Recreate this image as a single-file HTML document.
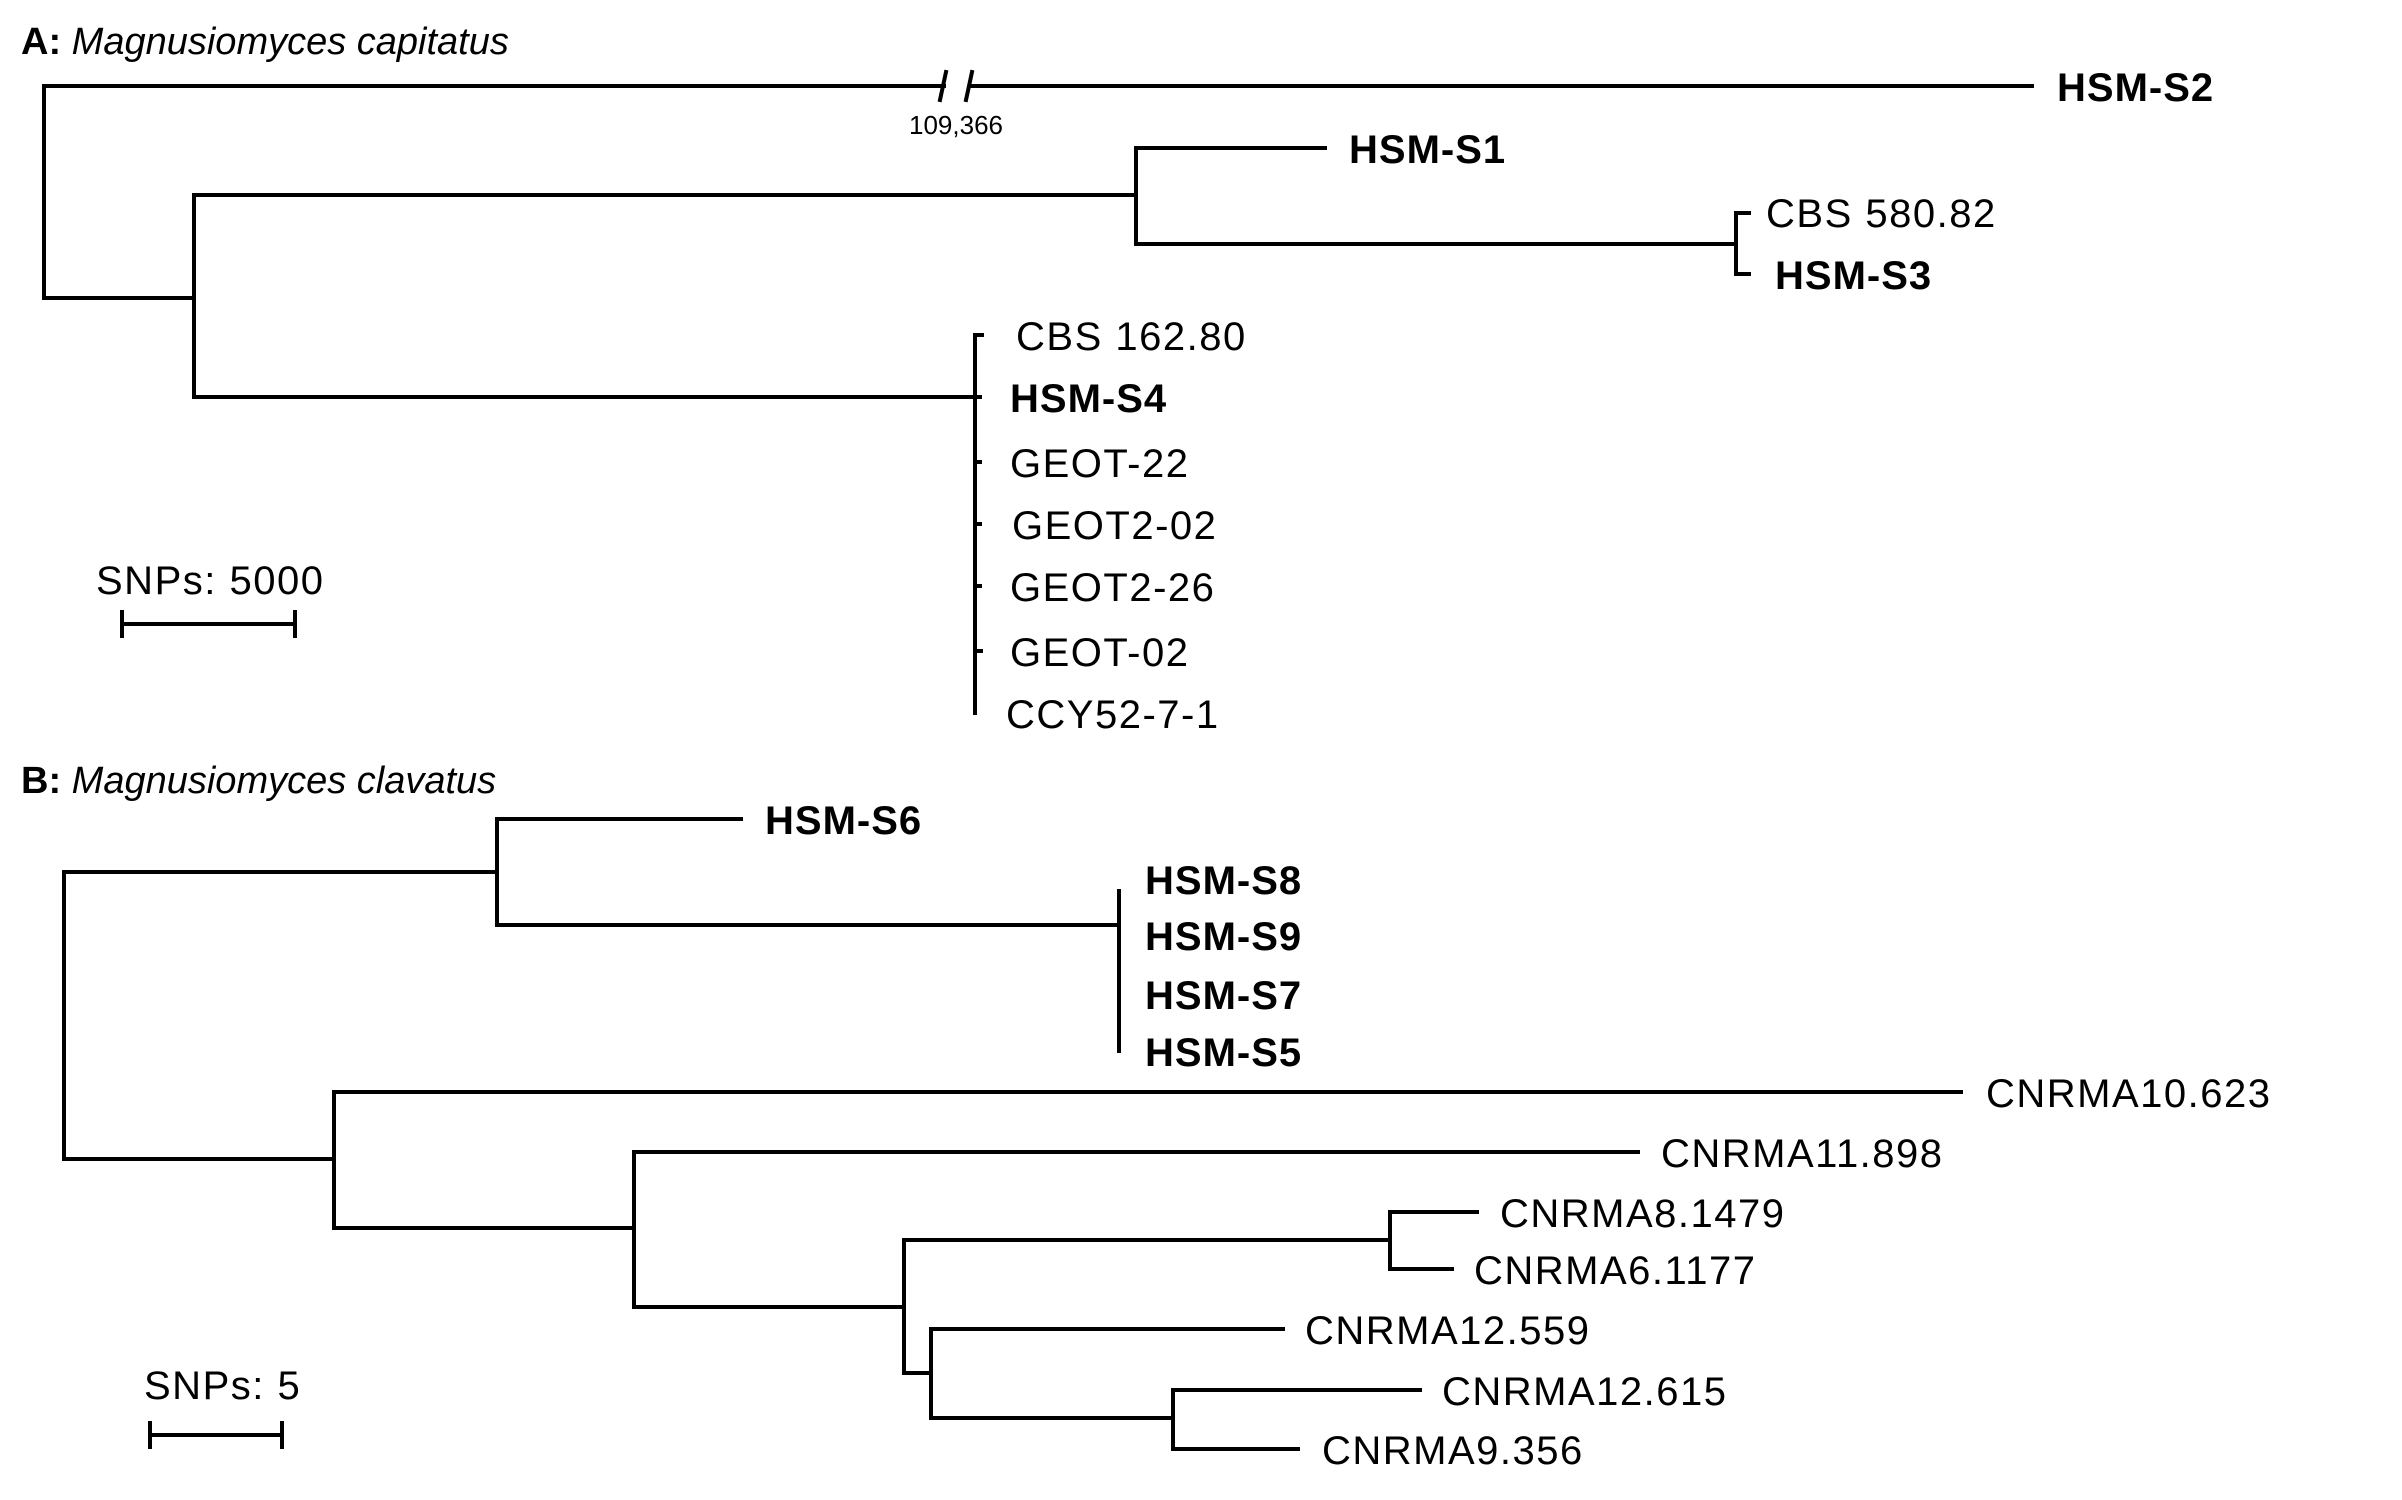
<!DOCTYPE html>
<html><head><meta charset="utf-8"><style>
html,body{margin:0;padding:0;background:#fff;}
svg{display:block;}
text{font-family:"Liberation Sans",sans-serif;fill:#000;}
.l{font-size:40px;letter-spacing:1.5px;}
.b{font-size:40px;font-weight:bold;letter-spacing:1px;}
.t{font-size:38px;}
</style></head><body>
<svg width="2402" height="1500" viewBox="0 0 2402 1500" xmlns="http://www.w3.org/2000/svg">
<g stroke="#000" stroke-width="4" fill="none" stroke-linecap="square">
<!-- Panel A -->
<polyline points="44,86 44,298 194,298"/>
<line x1="44" y1="86" x2="944" y2="86"/>
<line x1="970" y1="86" x2="2032" y2="86"/>
<line x1="946" y1="72" x2="940" y2="100"/>
<line x1="972" y1="72" x2="966" y2="100"/>
<polyline points="194,195 194,397"/>
<line x1="194" y1="195" x2="1136" y2="195"/>
<polyline points="1325,148 1136,148 1136,244 1736,244"/>
<polyline points="1749,213 1736,213 1736,274 1749,274"/>
<line x1="194" y1="397" x2="975" y2="397"/>
<line x1="975" y1="335" x2="975" y2="713"/>
<line x1="975" y1="335" x2="982" y2="335"/>
<line x1="975" y1="397" x2="980" y2="397"/>
<line x1="975" y1="462" x2="980" y2="462"/>
<line x1="975" y1="524" x2="980" y2="524"/>
<line x1="975" y1="586" x2="980" y2="586"/>
<line x1="975" y1="651" x2="981" y2="651"/>
<line x1="122" y1="624" x2="295" y2="624"/>
<line x1="122" y1="612" x2="122" y2="636"/>
<line x1="295" y1="612" x2="295" y2="636"/>
<!-- Panel B -->
<polyline points="497,872 64,872 64,1159 334,1159"/>
<polyline points="741,819 497,819 497,925 1119,925"/>
<line x1="1119" y1="891" x2="1119" y2="1051"/>
<polyline points="1961,1092 334,1092 334,1228 634,1228"/>
<polyline points="1638,1152 634,1152 634,1307 904,1307"/>
<polyline points="1390,1240 904,1240 904,1373 931,1373"/>
<polyline points="1477,1212 1390,1212 1390,1269 1452,1269"/>
<polyline points="1283,1329 931,1329 931,1418 1173,1418"/>
<polyline points="1420,1390 1173,1390 1173,1449 1298,1449"/>
<line x1="150" y1="1435" x2="282" y2="1435"/>
<line x1="150" y1="1423" x2="150" y2="1447"/>
<line x1="282" y1="1423" x2="282" y2="1447"/>
</g>
<g dominant-baseline="central">
<text class="t" x="21" y="42"><tspan font-weight="bold">A:</tspan> <tspan font-style="italic">Magnusiomyces capitatus</tspan></text>
<text x="956" y="125" font-size="26" text-anchor="middle">109,366</text>
<text class="b" x="2057" y="88">HSM-S2</text>
<text class="b" x="1349" y="150">HSM-S1</text>
<text class="l" x="1766" y="214">CBS 580.82</text>
<text class="b" x="1775" y="276">HSM-S3</text>
<text class="l" x="1016" y="337">CBS 162.80</text>
<text class="b" x="1010" y="399">HSM-S4</text>
<text class="l" x="1010" y="464">GEOT-22</text>
<text class="l" x="1012" y="526">GEOT2-02</text>
<text class="l" x="1010" y="588">GEOT2-26</text>
<text class="l" x="1010" y="653">GEOT-02</text>
<text class="l" x="1006" y="715">CCY52-7-1</text>
<text class="l" x="96" y="581">SNPs: 5000</text>
<text class="t" x="21" y="781"><tspan font-weight="bold">B:</tspan> <tspan font-style="italic">Magnusiomyces clavatus</tspan></text>
<text class="b" x="765" y="821">HSM-S6</text>
<text class="b" x="1145" y="881">HSM-S8</text>
<text class="b" x="1145" y="937">HSM-S9</text>
<text class="b" x="1145" y="996">HSM-S7</text>
<text class="b" x="1145" y="1053">HSM-S5</text>
<text class="l" x="1986" y="1094">CNRMA10.623</text>
<text class="l" x="1661" y="1154">CNRMA11.898</text>
<text class="l" x="1500" y="1214">CNRMA8.1479</text>
<text class="l" x="1474" y="1271">CNRMA6.1177</text>
<text class="l" x="1305" y="1331">CNRMA12.559</text>
<text class="l" x="1442" y="1392">CNRMA12.615</text>
<text class="l" x="1322" y="1451">CNRMA9.356</text>
<text class="l" x="144" y="1386">SNPs: 5</text>
</g>
</svg>
</body></html>
